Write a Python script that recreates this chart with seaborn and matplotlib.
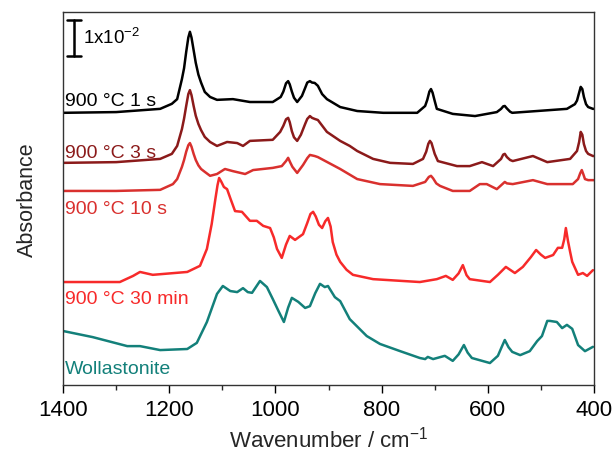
import numpy as np
import pandas as pd
import matplotlib
matplotlib.use("Agg")
import matplotlib.pyplot as plt
import seaborn as sns

# ---- data (absorbance in units of 1e-2, offsets included as plotted) ----
wn_1s = [1400, 1300, 1217, 1195, 1185, 1176, 1172, 1168, 1164, 1161, 1158, 1154, 1150, 1145, 1140,
         1133, 1123, 1110, 1080, 1048, 1005, 990, 985, 980, 976, 973, 969, 965, 959, 950, 944,
         940, 935, 931, 926, 920, 912, 903, 878, 846, 797, 733, 718, 714, 710, 707, 704, 700, 696,
         666, 624, 583, 575, 571, 568, 564, 558, 554, 507, 451, 436, 432, 428, 425, 422, 419, 415,
         411, 402, 400]
ab_1s = [7.56, 7.58, 7.67, 7.81, 7.94, 8.50, 8.80, 9.25, 9.65, 9.81, 9.65, 9.30, 8.95, 8.62, 8.40,
         8.14, 8.00, 7.92, 7.94, 7.86, 7.86, 8.00, 8.15, 8.38, 8.44, 8.35, 8.15, 7.98, 7.86, 8.03, 8.25,
         8.40, 8.44, 8.40, 8.39, 8.31, 8.08, 7.94, 7.72, 7.61, 7.56, 7.56, 7.75, 7.92, 8.15, 8.22, 8.12, 7.89, 7.67,
         7.53, 7.47, 7.58, 7.67, 7.74, 7.75, 7.68, 7.59, 7.56, 7.61, 7.67, 7.80, 7.90, 8.12, 8.28, 8.22, 8.00, 7.80,
         7.72, 7.67, 7.67]

wn_3s = [1400, 1300, 1217, 1195, 1185, 1176, 1172, 1168, 1164, 1161, 1158, 1154, 1150, 1145, 1140,
         1133, 1123, 1110, 1091, 1072, 1061, 1048, 1005, 991, 985, 980, 976, 973, 969, 965, 959,
         952, 944, 940, 935, 931, 926, 920, 903, 878, 860, 846, 816, 784, 741, 722, 716, 712, 709,
         706, 700, 694, 658, 634, 611, 590, 575, 571, 568, 564, 558, 553, 515, 488, 445, 432, 428,
         425, 422, 419, 415, 411, 402, 400]
ab_3s = [6.17, 6.19, 6.28, 6.42, 6.64, 7.11, 7.40, 7.75, 8.08, 8.19, 8.05, 7.75, 7.48, 7.25, 7.08,
         6.89, 6.75, 6.64, 6.75, 6.72, 6.64, 6.78, 6.81, 7.03, 7.20, 7.38, 7.42, 7.30, 7.05, 6.88, 6.78,
         6.95, 7.25, 7.39, 7.47, 7.42, 7.39, 7.36, 7.03, 6.78, 6.64, 6.50, 6.28, 6.17, 6.14, 6.28, 6.48, 6.70, 6.78,
         6.72, 6.42, 6.22, 6.08, 6.08, 6.19, 6.08, 6.28, 6.40, 6.42, 6.33, 6.25, 6.22, 6.36, 6.19, 6.28, 6.50, 6.75,
         7.03, 6.95, 6.69, 6.50, 6.42, 6.36, 6.36]

wn_10s = [1400, 1300, 1217, 1193, 1185, 1176, 1172, 1168, 1164, 1161, 1158, 1154, 1150, 1145, 1140,
          1133, 1123, 1110, 1095, 1080, 1057, 1042, 1005, 988, 980, 976, 972, 968, 959, 948, 940,
          935, 926, 920, 878, 846, 803, 741, 718, 711, 707, 703, 697, 690, 666, 634, 615, 602, 583,
          571, 568, 564, 553, 515, 488, 440, 430, 426, 423, 420, 417, 411, 400]
ab_10s = [5.39, 5.39, 5.42, 5.58, 5.72, 6.06, 6.25, 6.48, 6.66, 6.72, 6.62, 6.42, 6.25, 6.10, 6.00,
          5.92, 5.81, 5.86, 6.00, 5.94, 5.86, 5.97, 6.03, 6.08, 6.22, 6.31, 6.18, 6.06, 5.89, 6.11, 6.30,
          6.39, 6.36, 6.33, 6.00, 5.72, 5.58, 5.53, 5.64, 5.78, 5.81, 5.74, 5.60, 5.53, 5.39, 5.39, 5.58, 5.58, 5.44,
          5.60, 5.64, 5.60, 5.58, 5.69, 5.58, 5.58, 5.72, 5.88, 5.97, 5.85, 5.72, 5.69, 5.69]

wn_30m = [1400, 1293, 1268, 1255, 1231, 1166, 1142, 1129, 1120, 1113, 1109, 1106, 1102, 1097, 1091,
          1084, 1076, 1063, 1048, 1035, 1023, 1010, 1003, 997, 988, 980, 973, 963, 948, 940, 934,
          929, 924, 918, 912, 906, 901, 896, 892, 885, 878, 866, 854, 816, 728, 696, 679, 666, 655,
          647, 640, 634, 596, 581, 566, 549, 534, 519, 509, 500, 492, 477, 468, 460, 456, 453, 449,
          445, 441, 430, 421, 413, 402]
ab_30m = [2.86, 2.86, 3.03, 3.14, 3.06, 3.14, 3.31, 3.78, 4.47, 5.17, 5.55, 5.75, 5.65, 5.50, 5.44,
          5.15, 4.83, 4.81, 4.56, 4.56, 4.42, 4.36, 4.10, 3.78, 3.53, 3.90, 4.14, 4.03, 4.19, 4.50, 4.75,
          4.81, 4.68, 4.45, 4.36, 4.55, 4.64, 4.40, 3.97, 3.62, 3.42, 3.20, 3.06, 2.94, 2.86, 2.94, 3.03, 2.92, 3.10,
          3.33, 3.05, 2.94, 2.86, 3.06, 3.28, 3.11, 3.28, 3.55, 3.75, 3.62, 3.53, 3.61, 3.81, 3.81, 4.05, 4.36, 4.00,
          3.70, 3.42, 3.06, 3.11, 3.03, 3.19]

wn_wol = [1400, 1344, 1279, 1255, 1217, 1166, 1148, 1129, 1110, 1099, 1085, 1072, 1061, 1052, 1044,
          1029, 1016, 1005, 994, 984, 976, 969, 957, 944, 935, 925, 916, 907, 901, 888, 878, 860,
          828, 803, 765, 728, 718, 713, 703, 681, 666, 655, 645, 638, 630, 596, 581, 574, 568, 561,
          554, 539, 521, 507, 498, 488, 483, 470, 460, 451, 441, 430, 417, 402]
ab_wol = [1.50, 1.33, 1.08, 1.08, 0.97, 1.00, 1.17, 1.75, 2.53, 2.75, 2.61, 2.58, 2.69, 2.58, 2.56,
          2.89, 2.72, 2.39, 2.05, 1.75, 2.15, 2.42, 2.31, 2.14, 2.19, 2.55, 2.81, 2.72, 2.75, 2.44, 2.33, 1.83,
          1.36, 1.14, 0.94, 0.75, 0.72, 0.78, 0.72, 0.81, 0.67, 0.85, 1.11, 0.90, 0.75, 0.61, 0.81, 1.05, 1.25, 1.05,
          0.92, 0.83, 0.94, 1.22, 1.36, 1.78, 1.78, 1.75, 1.58, 1.67, 1.56, 1.11, 0.94, 1.06]

series_names = ["900 °C 1 s", "900 °C 3 s", "900 °C 10 s", "900 °C 30 min", "Wollastonite"]
series_colors = ["#000000", "#8B1A1A", "#D9302E", "#F72A2A", "#13807A"]
label_y = [7.78, 6.33, 4.78, 2.28, 0.33]   # baseline of each label, same units as data

x_ticks = [1400, 1200, 1000, 800, 600, 400]
x_minor = [1300, 1100, 900, 700, 500]
scale_bar = 1.0  # 1x10^-2

# ---- build long table ----
frames = []
for name, w, a in zip(series_names,
                      [wn_1s, wn_3s, wn_10s, wn_30m, wn_wol],
                      [ab_1s, ab_3s, ab_10s, ab_30m, ab_wol]):
    frames.append(pd.DataFrame({"wn": w, "ab": a, "sample": name}))
df = pd.concat(frames, ignore_index=True)

sns.set_theme(style="ticks")
plt.rcParams["font.family"] = ["Liberation Sans", "DejaVu Sans"]
plt.rcParams["mathtext.fontset"] = "custom"
plt.rcParams["mathtext.rm"] = "Liberation Sans"

fig = plt.figure(figsize=(6.16, 4.52), dpi=100)
ax = fig.add_axes([63 / 616, 1 - 386 / 452, 531 / 616, 373 / 452])

sns.lineplot(data=df, x="wn", y="ab", hue="sample", units="sample", estimator=None,
             sort=False, palette=dict(zip(series_names, series_colors)), linewidth=1.8,
             legend=False, ax=ax)
for ln in ax.get_lines():
    ln.set_solid_joinstyle("round")

ax.set_xlim(1400, 400)
ax.set_ylim(0, 10.36)
ax.set_xticks(x_ticks)
ax.set_xticks(x_minor, minor=True)
ax.set_xticklabels([str(t) for t in x_ticks])
ax.set_yticks([])
ax.tick_params(axis="x", which="major", direction="out", length=6, width=1, labelsize=16, pad=4, colors="black")
ax.tick_params(axis="x", which="minor", direction="out", length=3.5, width=1, bottom=True)
for s in ax.spines.values():
    s.set_color("#333333")
    s.set_linewidth(1.0)
    s.set_visible(True)

ax.set_xlabel("Wavenumber / cm$^{\\mathregular{-1}}$", fontsize=16, labelpad=4)
ax.set_ylabel("Absorbance", fontsize=15.5, labelpad=18)

# sample labels
for name, col, yb in zip(series_names, series_colors, label_y):
    ax.text(1396, yb, name, color=col, fontsize=14, ha="left", va="baseline")

# scale bar
x_bar = 1379
ax.plot([x_bar, x_bar], [9.14, 9.14 + scale_bar], color="black", lw=1.8)
ax.plot([1392, 1366], [9.14, 9.14], color="black", lw=1.8)
ax.plot([1392, 1366], [9.14 + scale_bar, 9.14 + scale_bar], color="black", lw=1.8)
ax.text(1363, 9.69, "1x10$^{\\mathregular{-2}}$", fontsize=13.5, ha="left", va="center", color="black")

fig.savefig("out.png", dpi=100)
